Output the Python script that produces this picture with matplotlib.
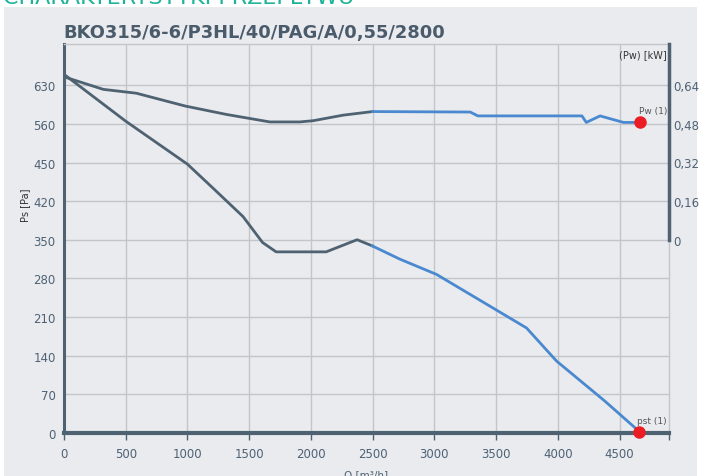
import matplotlib.pyplot as plt
from matplotlib.patches import Rectangle

# static pressure curve [Pa]
pst_q = [0, 500, 1000, 1200, 1450, 1608, 1718, 2123, 2374, 2495]
pst_pa = [650, 565, 487, 445, 392, 345, 328, 328, 350, 339]
pst_q_blue = [2495, 2718, 3018, 3746, 3989, 4377, 4660]
pst_pa_blue = [339, 315, 287, 190, 130, 58, 2]

# power curve [kW]
pw_q = [0, 318, 586, 981, 1316, 1667, 1909, 2017, 2260, 2500]
pw_kw = [0.675, 0.623, 0.607, 0.554, 0.519, 0.488, 0.488, 0.493, 0.516, 0.531]
pw_q_blue = [2500, 3290, 3352, 4195, 4230, 4342, 4531, 4666]
pw_kw_blue = [0.531, 0.529, 0.513, 0.513, 0.486, 0.513, 0.486, 0.486]

# operating points
op_q_pst, op_pst = 4660, 2
op_q_pw, op_pw = 4666, 0.486

x_ticks = [0, 500, 1000, 1500, 2000, 2500, 3000, 3500, 4000, 4500]
y_ticks = [0, 70, 140, 210, 280, 350, 420, 490, 560, 630]
y_labels = ['0', '70', '140', '210', '280', '350', '420', '450', '560', '630']
pw_ticks = [0, 0.16, 0.32, 0.48, 0.64]
pw_labels = ['0', '0,16', '0,32', '0,48', '0,64']

dark = '#4f6272'
blue = '#4a89cf'
red = '#ec1c24'
grid = '#c3c5c9'
bg = '#e9ebef'
txt = '#4e6173'

plt.rcParams['font.family'] = ['DejaVu Sans']

fig = plt.figure(figsize=(7.01, 4.77), dpi=100)
fig.patch.set_facecolor('white')
fig.patches.append(Rectangle((4 / 701, 0), 693 / 701, 469 / 477, transform=fig.transFigure,
                             facecolor=bg, edgecolor='none', zorder=-10))

fig.text(3 / 701, 1 - 4 / 477, 'CHARAKTERYSTYKI PRZEPŁYWU', color='#1fb39a',
         fontsize=16, va='baseline', ha='left')
fig.text(63 / 701, 1 - 33 / 477, 'BKO315/6-6/P3HL/40/PAG/A/0,55/2800', color='#4a5b6c',
         fontsize=12.9, fontweight='bold', va='center', ha='left')

ax = fig.add_axes([64 / 701, 43.3 / 477, 605 / 701, 388.7 / 477])
ax.set_facecolor(bg)
ax.set_xlim(0, 4900)
ax.set_ylim(0, 705)

# plot data
ax.plot(pst_q, pst_pa, color=dark, lw=2, zorder=3, solid_joinstyle='round')
ax.plot(pst_q_blue, pst_pa_blue, color=blue, lw=2, zorder=3, solid_joinstyle='round')

ax2 = ax.twinx()
ax2.set_ylim(-0.8, 0.811)
ax2.plot(pw_q, pw_kw, color=dark, lw=2, zorder=3, solid_joinstyle='round')
ax2.plot(pw_q_blue, pw_kw_blue, color=blue, lw=2, zorder=3, solid_joinstyle='round')

# operating points
ax2.plot(op_q_pst, (op_pst - 350) / 437.5, 'o', color=red, ms=8, zorder=5, clip_on=False)
ax2.annotate('pst (1)', (op_q_pst, (op_pst - 350) / 437.5), xytext=(-2, 5), textcoords='offset points',
             fontsize=6.5, color='#555555', ha='left', va='bottom')
ax2.plot(op_q_pw, op_pw, 'o', color=red, ms=8, zorder=5)
ax2.annotate('Pw (1)', (op_q_pw, op_pw), xytext=(-1, 5), textcoords='offset points',
             fontsize=6.5, color='#555555', ha='left', va='bottom')

# axes
ax.set_xticks(x_ticks)
ax.set_xticks([4900], minor=True)
ax.set_yticks(y_ticks)
ax.set_yticklabels(y_labels)
ax.grid(True, color=grid, lw=1)
ax.set_axisbelow(True)
ax.tick_params(axis='x', colors=dark, length=5, width=1, labelsize=8.5, labelcolor=txt, pad=5)
ax.tick_params(axis='x', which='minor', colors=dark, length=5, width=1)
ax.tick_params(axis='y', length=0, labelsize=8.5, labelcolor=txt, pad=6)
for s in ['top', 'right']:
    ax.spines[s].set_color(grid)
    ax.spines[s].set_linewidth(1)
ax.spines['left'].set_color(dark)
ax.spines['left'].set_linewidth(2.2)
ax.spines['bottom'].set_color(dark)
ax.spines['bottom'].set_linewidth(3)
ax.spines['bottom'].set_zorder(4)

ax2.set_yticks(pw_ticks)
ax2.set_yticklabels(pw_labels)
ax2.tick_params(axis='y', length=0, labelsize=8.5, labelcolor=txt, pad=3)
for s in ['top', 'left', 'bottom']:
    ax2.spines[s].set_visible(False)
ax2.spines['right'].set_color(dark)
ax2.spines['right'].set_linewidth(2.5)
ax2.spines['right'].set_bounds(0, 0.811)

# labels
ax.set_xlabel('Q [m³/h]', fontsize=7.5, color=txt, labelpad=7)
fig.text(25 / 701, 1 - 205 / 477, 'Ps [Pa]', rotation=90, fontsize=7, color='#333333',
         ha='center', va='center')
fig.text(667 / 701, 1 - 55 / 477, '(Pw) [kW]', fontsize=7, color='#333333',
         ha='right', va='center')

fig.savefig('out.png', dpi=100)
